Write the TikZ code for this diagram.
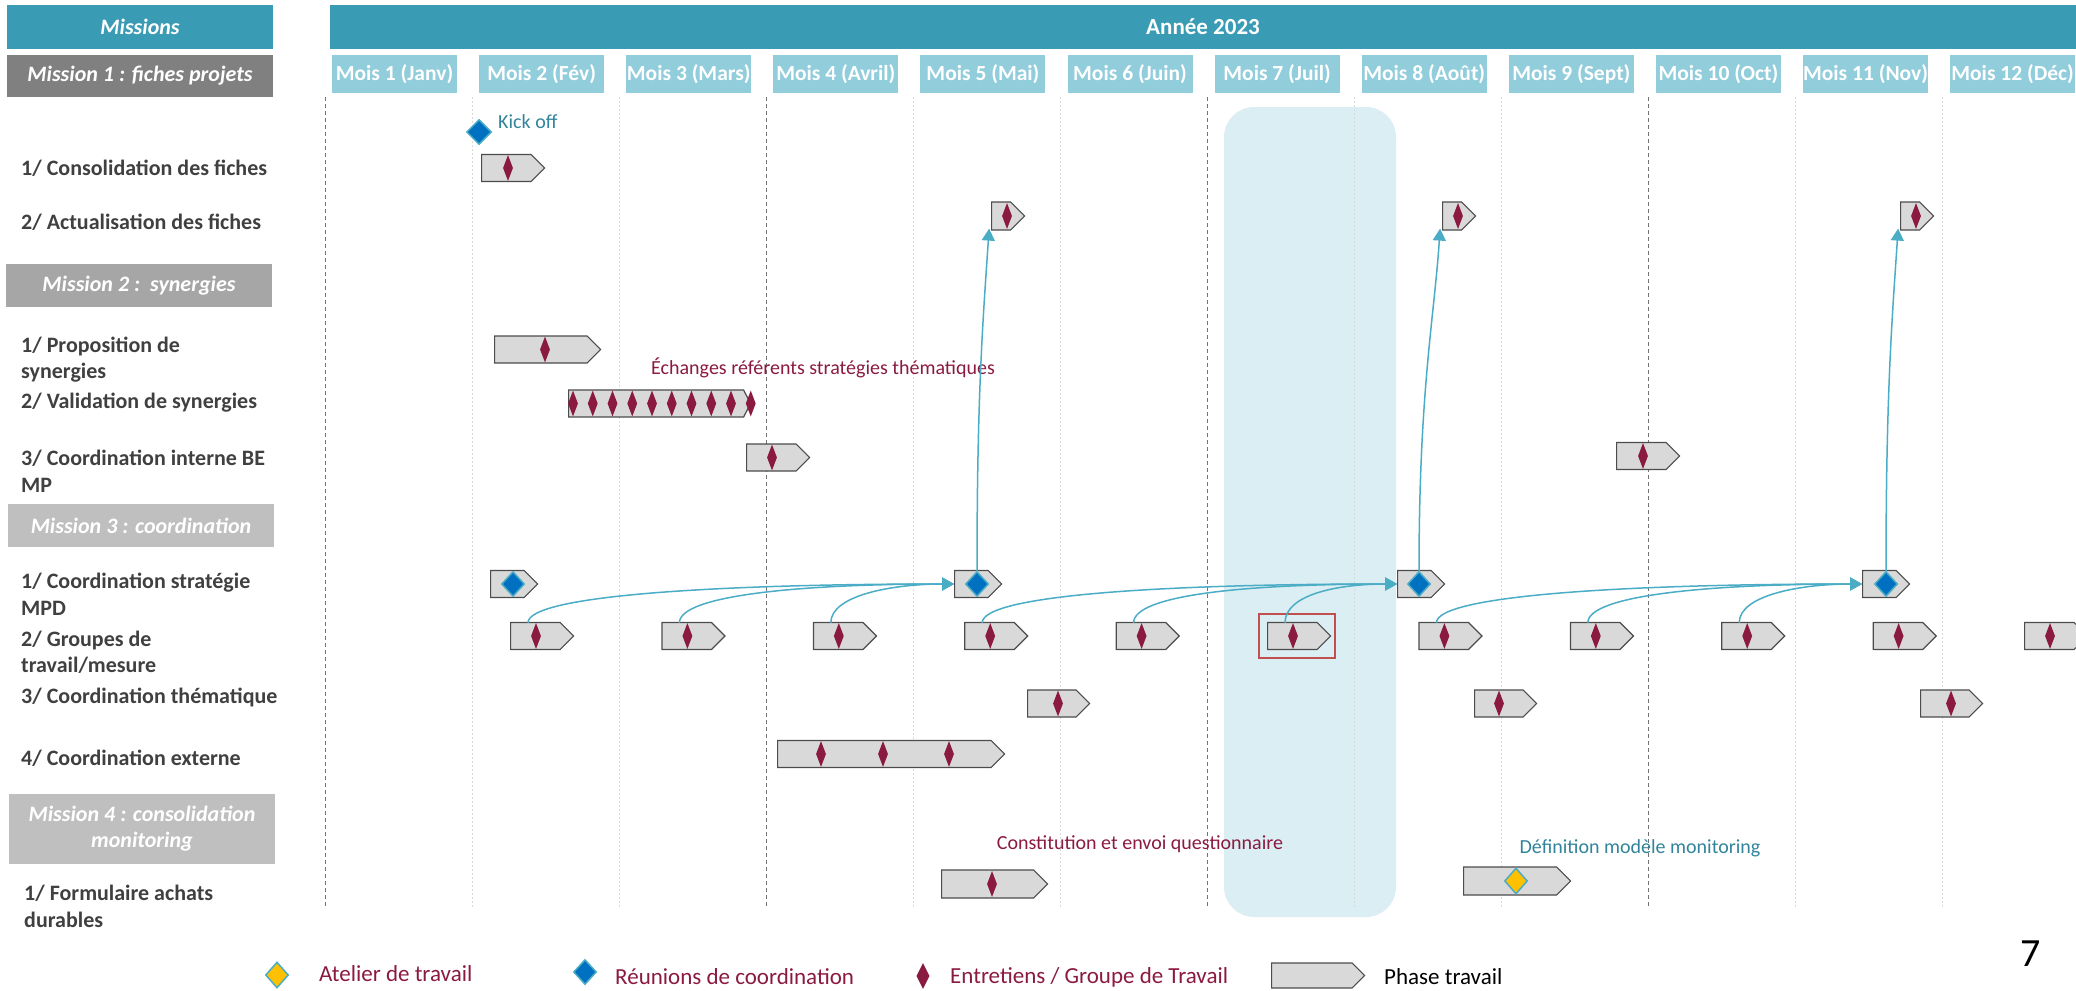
\documentclass[tikz,border=0pt]{standalone}
\usepackage{fontspec}
\setmainfont{Carlito}
\usetikzlibrary{shapes.geometric,shapes.symbols,arrows.meta}

\definecolor{hdrblue}{RGB}{58,155,181}
\definecolor{monthblue}{RGB}{146,205,220}
\definecolor{hilite}{RGB}{218,238,243}
\definecolor{maroon}{RGB}{139,26,64}
\definecolor{reublue}{RGB}{0,112,192}
\definecolor{linkblue}{RGB}{75,172,198}
\definecolor{tealtext}{RGB}{49,132,155}
\definecolor{gold}{RGB}{255,192,0}
\definecolor{labelgray}{RGB}{64,64,64}
\definecolor{phasegray}{RGB}{217,217,217}
\definecolor{boxred}{RGB}{192,80,77}

\begin{document}
\begin{tikzpicture}[x=1pt, y=-1pt,
  hdr/.style={fill=hdrblue, text=white, inner sep=0, font=\fontsize{22}{26}\selectfont\bfseries},
  month/.style={fill=monthblue, text=white, minimum width=125, minimum height=38, inner sep=0, font=\fontsize{21.5}{25}\selectfont\bfseries},
  mission/.style={text=white, minimum width=266, inner sep=0, align=center, font=\fontsize{22}{26}\selectfont\bfseries\itshape},
  task/.style={anchor=west, text=labelgray, align=left, inner sep=0, font=\fontsize{22}{26.5}\selectfont\bfseries},
  note/.style={inner sep=0, font=\fontsize{20}{24}\selectfont},
  legend/.style={anchor=west, inner sep=0, text=maroon, font=\fontsize{23}{27}\selectfont},
  phase/.style={shape=signal, signal to=east, anchor=west, fill=phasegray, draw=black!70, line width=1.2, minimum height=27, inner sep=0},
  ent/.style={diamond, fill=maroon, minimum width=10, minimum height=26, inner sep=0},
  reu/.style={diamond, fill=reublue, draw=linkblue, line width=1.5, minimum width=23, minimum height=25, inner sep=0},
  atel/.style={diamond, fill=gold, draw=linkblue, line width=1.5, minimum width=23, minimum height=26, inner sep=0},
  link/.style={draw=linkblue, line width=1.5, -{Triangle[length=12pt, width=13pt]}},
  major/.style={black!55, line width=1, dash pattern=on 4pt off 3pt},
  minor/.style={black!15, line width=0.8, dash pattern=on 2pt off 2pt},
]
\useasboundingbox (0,0) rectangle (2076,990);

% header row
\node[hdr, minimum width=266, minimum height=44, font=\fontsize{22}{26}\selectfont\bfseries\itshape] (missions) at (140,27) {Missions};
\node[hdr, minimum width=1746, minimum height=44, font=\fontsize{23}{27}\selectfont\bfseries] (annee) at (1203,27) {Année 2023};
\foreach \m [count=\i from 0] in {Mois 1 (Janv), Mois 2 (Fév), Mois 3 (Mars), Mois 4 (Avril), Mois 5 (Mai), Mois 6 (Juin),
    Mois 7 (Juil), Mois 8 (Août), Mois 9 (Sept), Mois 10 (Oct), Mois 11 (Nov), Mois 12 (Déc)}
  \node[month] (m\i) at ({394.5+\i*147.1},74) {\m};

% mission boxes
\node[mission, fill=black!50, minimum height=42] (mis1) at (140,76) {Mission 1 : fiches projets};
\node[mission, fill=black!35, minimum height=43] (mis2) at (139,285.5) {Mission 2 :\ \ synergies};
\node[mission, fill=black!25, minimum height=43] (mis3) at (141,525.5) {Mission 3 : coordination};
\node[mission, fill=black!25, minimum height=70] (mis4) at (142,829) {Mission 4 : consolidation\\monitoring};

% july highlight and month grid
\fill[hilite, rounded corners=30] (1224,107) rectangle (1396,917);
\foreach \k in {1,2,4,5,7,8,10,11} \draw[minor] ({325+\k*147},97) -- ({325+\k*147},907);
\foreach \k in {0,3,6,9} \draw[major] ({325+\k*147},97) -- ({325+\k*147},907);

% task labels
\node[task] (t11) at (21,168) {1/ Consolidation des fiches};
\node[task] (t12) at (21,222) {2/ Actualisation des fiches};
\node[task] (t21) at (21,359.5) {1/ Proposition de\\synergies};
\node[task] (t22) at (21,403) {2/ Validation de synergies};
\node[task] (t23) at (21,471.5) {3/ Coordination interne BE\\MP};
\node[task] (t31) at (21,594.5) {1/ Coordination stratégie\\MPD};
\node[task] (t32) at (21,652.5) {2/ Groupes de\\travail/mesure};
\node[task] (t33) at (21,697) {3/ Coordination thématique};
\node[task] (t34) at (21,758) {4/ Coordination externe};
\node[task] (t41) at (24,906.5) {1/ Formulaire achats\\durables};

% mission 1
\node[reu, minimum width=25] (ko) at (479,132) {};
\node[note, text=tealtext, anchor=west] (kotxt) at (498,122) {Kick off};
\node[phase, minimum width=63] (cf) at (481,168) {};
\node[ent] (cfd) at (508,168) {};
\foreach \x [count=\i] in {1007,1458,1916} {
  \node[phase, minimum width=33, minimum height=28] (ab\i) at (\x-16,216) {};
  \node[ent] (ad\i) at (\x,216) {};
}

% mission 2
\node[phase, minimum width=106] (ps) at (494,349.5) {};
\node[ent] (psd) at (545,349.5) {};
\node[note, text=maroon] (ech) at (823,368) {Échanges référents stratégies thématiques};
\node[phase, minimum width=182, signal pointer angle=125] (vs) at (568,403.5) {};
\foreach \k in {0,...,9} \node[ent] (vsd\k) at ({573+\k*19.75},403.5) {};
\node[phase, minimum width=63] (ci1) at (746,457.5) {};
\node[ent] (cid1) at (772,457.5) {};
\node[phase, minimum width=63] (ci2) at (1616,456) {};
\node[ent] (cid2) at (1643,456) {};

% mission 3
\foreach \x/\d [count=\i] in {490/513, 954/977, 1397/1419, 1862/1886} {
  \node[phase, minimum width=47] (cb\i) at (\x,584) {};
  \node[reu] (r\i) at (\d,584) {};
}
\foreach \i in {1,...,11} {
  \node[phase, minimum width=63] (gb\i) at ({510+(\i-1)*151.4},636) {};
  \node[ent] (g\i) at ({536+(\i-1)*151.4},636) {};
}
\node[draw=boxred, line width=2.5, minimum width=76, minimum height=44, inner sep=0] (sel) at (1297,636) {};
\foreach \x/\d [count=\i] in {1027/1058, 1474/1499, 1920/1951} {
  \node[phase, minimum width=62] (th\i) at (\x,703.5) {};
  \node[ent] (thd\i) at (\d,703.5) {};
}
\node[phase, minimum width=227] (ce) at (777,754) {};
\foreach \x [count=\i] in {821,883,949} \node[ent] (ced\i) at (\x,754) {};

% links: groupes -> coordination, coordination -> actualisation
\foreach \s/\t/\c in {1/2/230,2/2/150,3/2/60,4/3/230,5/3/150,6/3/60,7/4/230,8/4/150,9/4/60}
  \draw[link] ([xshift=-8]g\s.north) .. controls +(0,-28) and +(-\c,0) .. (cb\t.west);
\foreach \r/\a in {2/1,3/2,4/3}
  \draw[link] (r\r.north) .. controls +(0,-180) and +(-6,90) .. ([xshift=-12,yshift=2]ab\a.south);

% mission 4
\node[note, text=maroon] (quest) at (1140,844) {Constitution et envoi questionnaire};
\node[note, text=tealtext] (modl) at (1640,848) {Définition modèle monitoring};
\node[phase, minimum width=106, minimum height=28] (fa1) at (941,884) {};
\node[ent] (fad1) at (992,884) {};
\node[phase, minimum width=107, minimum height=28] (fa2) at (1463,881) {};
\node[atel] (fad2) at (1516,881) {};

% legend
\node[atel] (lg1) at (277,975) {};
\node[legend] (lt1) at (319,974) {Atelier de travail};
\node[reu] (lg2) at (585,972) {};
\node[legend] (lt2) at (615,977) {Réunions de coordination};
\node[ent, minimum width=13] (lg3) at (923,976) {};
\node[legend] (lt3) at (950,977) {Entretiens / Groupe de Travail};
\node[phase, minimum width=93, minimum height=25] (lg4) at (1271,975.5) {};
\node[legend, text=black] (lt4) at (1384,977) {Phase travail};
\node[inner sep=0, font=\fontsize{40}{40}\selectfont] (pg) at (2031,954) {7};
\end{tikzpicture}
\end{document}
